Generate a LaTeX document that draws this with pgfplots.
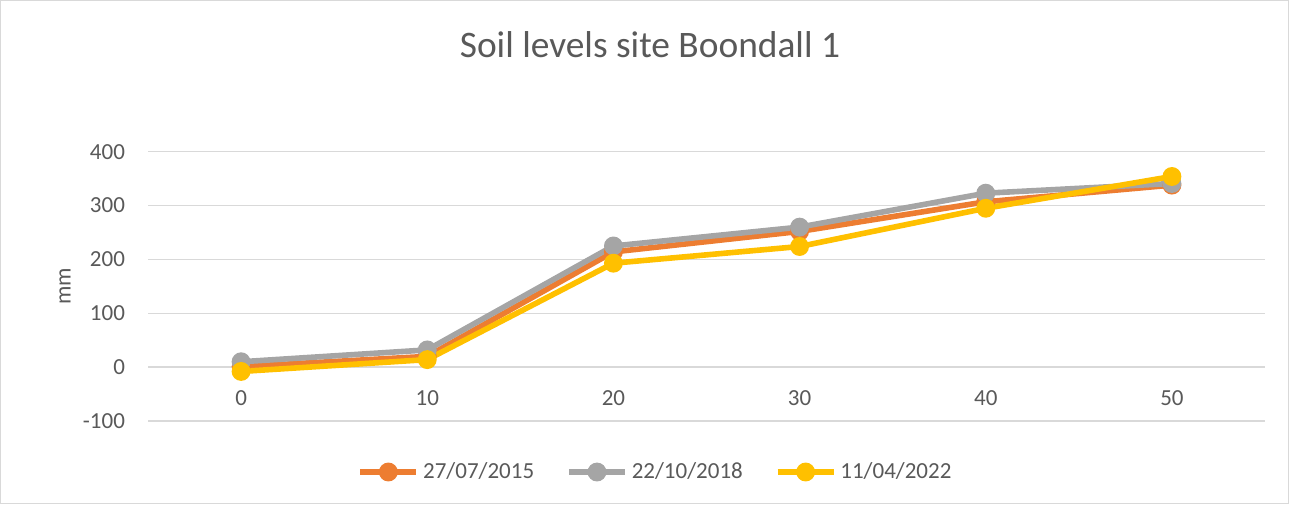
\documentclass[border=0pt]{standalone}
\usepackage{pgfplots}
\pgfplotsset{compat=1.18}
\usepackage{fontspec}
\setmainfont{Carlito}
\definecolor{cOrange}{HTML}{ED7D31}
\definecolor{cGray}{HTML}{A5A5A5}
\definecolor{cYellow}{HTML}{FFC000}
\definecolor{textc}{HTML}{595959}
\definecolor{gridc}{HTML}{D9D9D9}
\begin{document}
\begin{tikzpicture}[x=1pt,y=1pt]
\draw[draw=gridc, line width=0.6pt] (0.3,0.3) rectangle (644.2,251.7);
\begin{axis}[
  at={(74pt,41.5pt)}, anchor=south west,
  scale only axis, width=558.5pt, height=134.65pt,
  xmin=-5, xmax=55, ymin=-100, ymax=400,
  axis x line=middle, axis y line=left,
  axis line style={draw=none},
  major tick length=0pt, tick style={draw=none},
  xtick={0,10,20,30,40,50},
  ytick={-100,0,100,200,300,400},
  ymajorgrids, grid style={gridc, line width=0.75pt},
  /pgf/number format/assume math mode=true,
  ticklabel style={font=\fontsize{11.5}{14}\selectfont, text=textc},
  xticklabel style={yshift=-8pt},
  yticklabel style={xshift=-8pt},
  ylabel={mm},
  ylabel style={at={(axis description cs:-0.0743,0.5)}, anchor=center, font=\fontsize{11.5}{14}\selectfont, text=textc},
  title={Soil levels site Boondall 1},
  title style={at={(axis description cs:0.5,1)}, anchor=center, xshift=-28.25pt, yshift=47.3pt, font=\fontsize{18.7}{22}\selectfont, text=textc},
  legend columns=3,
  legend style={at={(axis description cs:0.5,-0.1894)}, anchor=center, xshift=-25pt, draw=none, fill=none,
    font=\fontsize{11.5}{14}\selectfont, text=textc,
    /tikz/every even column/.append style={column sep=14pt}},
  legend image code/.code={\draw[mark repeat=2,mark phase=2,#1] plot coordinates {(0pt,0pt) (14pt,0pt) (28pt,0pt)};},
  every axis plot/.append style={line width=2.8pt, mark=*, mark size=3.3pt},
]
\addplot[color=cOrange, mark options={solid, fill=cOrange, draw=cOrange}] coordinates {(0,1) (10,20) (20,214) (30,252) (40,307) (50,338)};
\addlegendentry{27/07/2015}
\addplot[color=cGray, mark options={solid, fill=cGray, draw=cGray}] coordinates {(0,10) (10,32) (20,225) (30,260) (40,323) (50,341)};
\addlegendentry{22/10/2018}
\addplot[color=cYellow, mark options={solid, fill=cYellow, draw=cYellow}] coordinates {(0,-8) (10,14) (20,193) (30,224) (40,295) (50,354)};
\addlegendentry{11/04/2022}
\end{axis}
\end{tikzpicture}
\end{document}
